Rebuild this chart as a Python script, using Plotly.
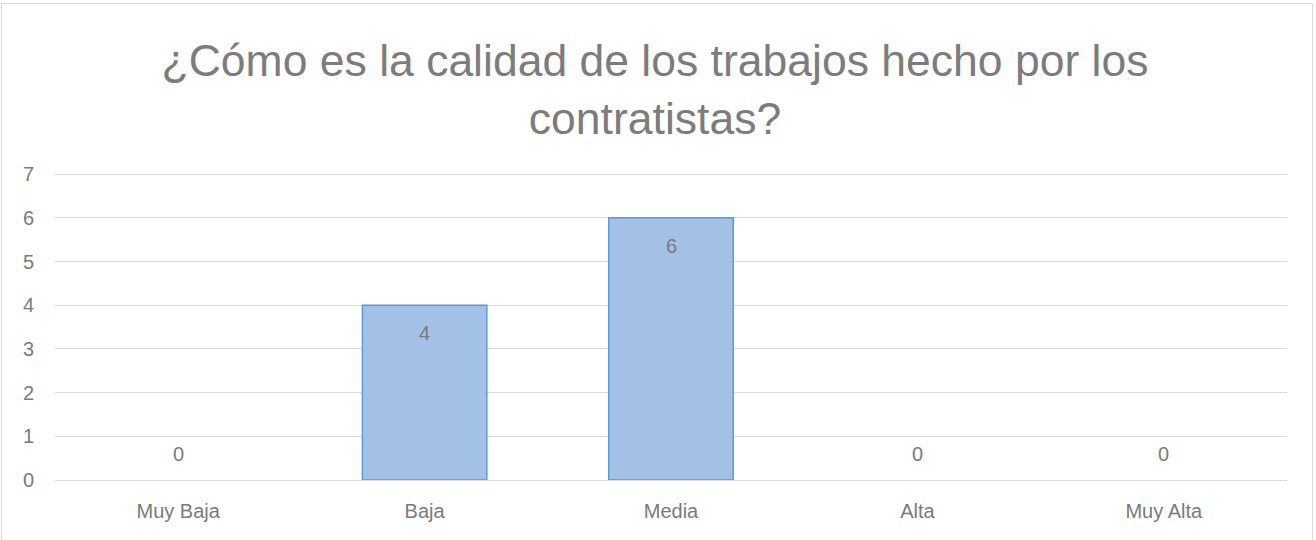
import plotly.graph_objects as go

categories = ["Muy Baja", "Baja", "Media", "Alta", "Muy Alta"]
counts = [0, 4, 6, 0, 0]
y_ticks = [0, 1, 2, 3, 4, 5, 6, 7]
title_text = "¿Cómo es la calidad de los trabajos hecho por los<br>contratistas?"

W, H = 1316, 540
M_L, M_R, M_T, M_B = 55, 29, 172, 60
plot_w = W - M_L - M_R
plot_h = H - M_T - M_B

text_grey = "#7a7a7a"
font_family = "Liberation Sans, Arial, sans-serif"

fig = go.Figure()
fig.add_trace(go.Bar(
    x=categories,
    y=counts,
    width=0.505,
    marker=dict(
        color="#a3c1e7",
        line=dict(color="#5b9bd5", width=[1.5 if v > 0 else 0 for v in counts]),
    ),
    hoverinfo="x+y",
))

# data labels: inside the top of each bar, just above the baseline for zero values
for cat, v in zip(categories, counts):
    fig.add_annotation(
        x=cat, y=v, text=str(v), showarrow=False,
        yshift=-28 if v > 0 else 26,
        font=dict(size=20, color=text_grey, family=font_family),
    )

# outer chart frame
fig.add_shape(
    type="rect", xref="paper", yref="paper",
    x0=-(M_L - 1.5) / plot_w, x1=(W - M_L - 3.5) / plot_w,
    y0=-1.0, y1=(plot_h + M_T - 3.5) / plot_h,
    line=dict(color="#d9d9d9", width=1), fillcolor="rgba(0,0,0,0)",
)

fig.update_layout(
    width=W, height=H,
    margin=dict(l=M_L, r=M_R, t=M_T, b=M_B),
    paper_bgcolor="white", plot_bgcolor="white",
    showlegend=False,
    font=dict(family=font_family, color=text_grey),
    title=dict(
        text=title_text, x=655 / W, xanchor="center",
        y=1 - 76 / H, yanchor="middle", yref="container",
        font=dict(size=44.5, color="#7c7c7c", family=font_family),
    ),
    bargap=0.5,
)
fig.update_xaxes(
    showgrid=False, showline=False, zeroline=False, ticks="",
    tickfont=dict(size=20, color=text_grey), ticklabelstandoff=17,
)
fig.update_yaxes(
    range=[0, 7.05], tickvals=y_ticks, showgrid=True, gridcolor="#d9d9d9",
    gridwidth=1, zeroline=True, zerolinecolor="#d9d9d9", zerolinewidth=1,
    showline=False, ticks="", tickfont=dict(size=20, color=text_grey),
    ticklabelstandoff=20,
)

fig.write_html("out.html")
